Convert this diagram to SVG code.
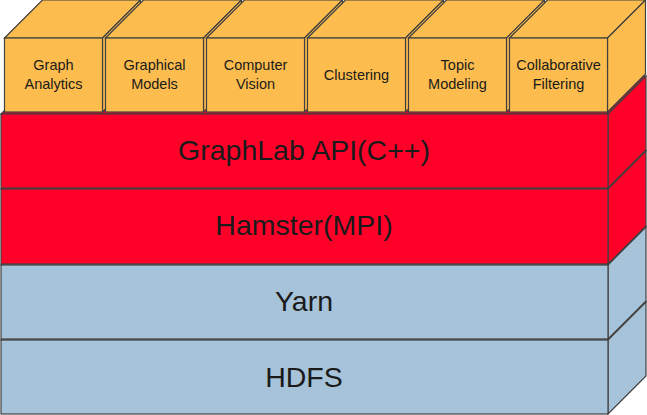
<svg xmlns="http://www.w3.org/2000/svg" width="647" height="415" viewBox="0 0 647 415">
<style>
.s{stroke:#404040;stroke-width:1.2;stroke-linejoin:miter}
.o{fill:#FDBD4E}
.r{fill:#FF0029}
.b{fill:#A7C3D9}
.t{font-family:"Liberation Sans",Arial,sans-serif;fill:#1a1a1a;text-anchor:middle;dominant-baseline:central}
.big{font-size:28.5px}
.sm{font-size:14.5px}
</style>
<rect width="647" height="415" fill="#fff"/>
<g id="hdfs">
<polygon class="s b" points="1,340 39,302 646,302 608,340"/>
<polygon class="s b" points="608,340 646,302 646,376 608,414"/>
<rect class="s b" x="1" y="340" width="607" height="74"/>
<text class="t big" x="304" y="377">HDFS</text>
</g>
<g id="yarn">
<polygon class="s b" points="1,265 39,227 646,227 608,265"/>
<polygon class="s b" points="608,265 646,227 646,301 608,339"/>
<rect class="s b" x="1" y="265" width="607" height="74"/>
<text class="t big" x="304" y="301">Yarn</text>
</g>
<g id="hamster">
<polygon class="s r" points="1,189 39,151 646,151 608,189"/>
<polygon class="s r" points="608,189 646,151 646,226 608,264"/>
<rect class="s r" x="1" y="189" width="607" height="75"/>
<text class="t big" x="304" y="225">Hamster(MPI)</text>
</g>
<g id="graphlab">
<polygon class="s r" points="1,114 39,76 646,76 608,114"/>
<polygon class="s r" points="608,114 646,76 646,150 608,188"/>
<rect class="s r" x="1" y="114" width="607" height="74"/>
<text class="t big" x="304" y="150">GraphLab API(C++)</text>
</g>
<g id="graph-analytics">
<polygon class="s o" points="4.5,38 42.5,0 140.5,0 102.5,38"/>
<polygon class="s o" points="102.5,38 140.5,0 140.5,74 102.5,112"/>
<rect class="s o" x="4.5" y="38" width="98" height="74"/>
<text class="t sm" x="53.5" y="65">Graph</text>
<text class="t sm" x="53.5" y="84">Analytics</text>
</g>
<g id="graphical-models">
<polygon class="s o" points="105.5,38 143.5,0 241.5,0 203.5,38"/>
<polygon class="s o" points="203.5,38 241.5,0 241.5,74 203.5,112"/>
<rect class="s o" x="105.5" y="38" width="98" height="74"/>
<text class="t sm" x="154.5" y="65">Graphical</text>
<text class="t sm" x="154.5" y="84">Models</text>
</g>
<g id="computer-vision">
<polygon class="s o" points="206.5,38 244.5,0 342.5,0 304.5,38"/>
<polygon class="s o" points="304.5,38 342.5,0 342.5,74 304.5,112"/>
<rect class="s o" x="206.5" y="38" width="98" height="74"/>
<text class="t sm" x="255.5" y="65">Computer</text>
<text class="t sm" x="255.5" y="84">Vision</text>
</g>
<g id="clustering">
<polygon class="s o" points="307.5,38 345.5,0 443.5,0 405.5,38"/>
<polygon class="s o" points="405.5,38 443.5,0 443.5,74 405.5,112"/>
<rect class="s o" x="307.5" y="38" width="98" height="74"/>
<text class="t sm" x="356.5" y="74.5">Clustering</text>
</g>
<g id="topic-modeling">
<polygon class="s o" points="408.5,38 446.5,0 544.5,0 506.5,38"/>
<polygon class="s o" points="506.5,38 544.5,0 544.5,74 506.5,112"/>
<rect class="s o" x="408.5" y="38" width="98" height="74"/>
<text class="t sm" x="457.5" y="65">Topic</text>
<text class="t sm" x="457.5" y="84">Modeling</text>
</g>
<g id="collaborative-filtering">
<polygon class="s o" points="509.5,38 547.5,0 645.5,0 607.5,38"/>
<polygon class="s o" points="607.5,38 645.5,0 645.5,74 607.5,112"/>
<rect class="s o" x="509.5" y="38" width="98" height="74"/>
<text class="t sm" x="558.5" y="65">Collaborative</text>
<text class="t sm" x="558.5" y="84">Filtering</text>
</g>
<g id="connectors"/>
</svg>
